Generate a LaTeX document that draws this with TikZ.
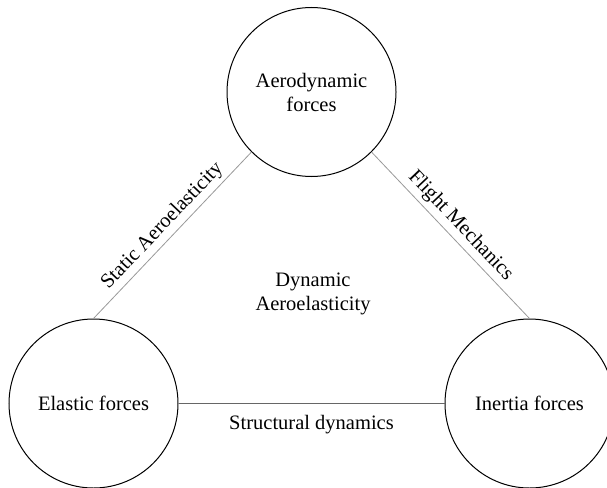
\documentclass[tikz,border=0pt]{standalone}
\usepackage{fontspec}
\setmainfont{Liberation Serif}
\begin{document}
\begin{tikzpicture}[x=1pt,y=-1pt,
  force/.style={circle,draw=black,line width=1pt,minimum size=169pt,inner sep=0pt,align=center,
    font=\fontsize{20.5}{24}\selectfont},
  diag/.style={draw=black!40,line width=0.8pt},
  horiz/.style={draw=black!60,line width=1pt},
  lbl/.style={font=\fontsize{20.5}{24}\selectfont,inner sep=3pt,text=black}]
\useasboundingbox (0,0) rectangle (607,487);
\clip (0,0) rectangle (607,487);
\node[force] (aero) at (311.5,92) {Aerodynamic\\forces};
\node[force] (elas) at (93.5,403.5) {Elastic forces};
\node[force] (iner) at (529.5,403.5) {Inertia forces};
\node[lbl,align=center] (dyn) at (313,294) {Dynamic\\Aeroelasticity};
\draw[diag] (aero.-135) -- node[lbl,sloped,above=1pt] (stat) {Static Aeroelasticity} (elas.north);
\draw[diag] (aero.-45) -- node[lbl,sloped,above=1pt] (flight) {Flight Mechanics} (iner.north);
\draw[horiz] (elas.east) -- node[lbl,below=8pt] (struct) {Structural dynamics} (iner.west);
\end{tikzpicture}
\end{document}
